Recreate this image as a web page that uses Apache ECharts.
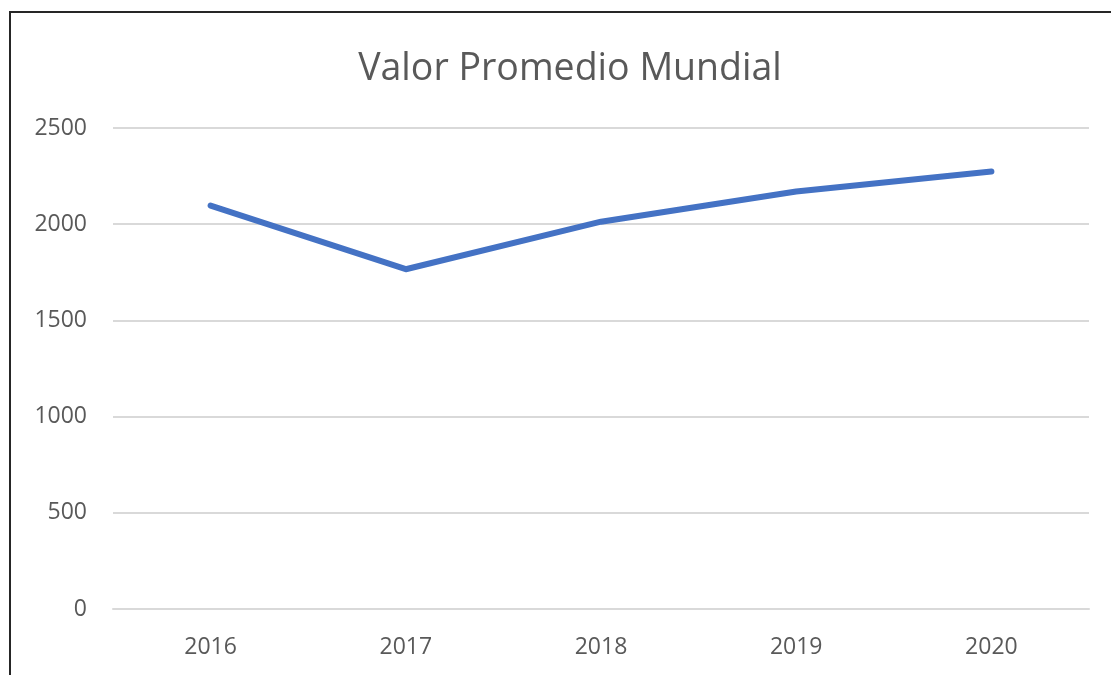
<!DOCTYPE html>
<html>
<head>
<meta charset="utf-8">
<script src="https://cdn.jsdelivr.net/npm/echarts@6/dist/echarts.min.js"></script>
<style>
  html, body { margin: 0; padding: 0; background: #fff; overflow: hidden; }
  #chart-container { width: 1111px; height: 675px; }
</style>
</head>
<body>
<div id="chart-container"></div>
<script>
// datos del gráfico
const years = ['2016', '2017', '2018', '2019', '2020'];
const avgValues = [2097, 1766, 2013, 2170, 2274];
const yTicks = [0, 500, 1000, 1500, 2000, 2500];

const chartOption = {
  animation: false,
  textStyle: { fontFamily: '"Open Sans", "Noto Sans", sans-serif' },
  title: {
    text: 'Valor Promedio Mundial',
    left: 565,
    top: 45,
    textAlign: 'center',
    textStyle: { fontSize: 37.5, fontWeight: 'normal', color: '#595959' }
  },
  grid: { left: 113, right: 22, top: 128, bottom: 66 },
  xAxis: {
    type: 'category',
    data: years,
    boundaryGap: true,
    axisLine: { show: true, lineStyle: { color: '#d9d9d9', width: 2 } },
    axisTick: { show: false },
    axisLabel: { color: '#595959', fontSize: 23, margin: 27 }
  },
  yAxis: {
    type: 'value',
    min: yTicks[0],
    max: yTicks[yTicks.length - 1],
    interval: 500,
    axisLine: { show: false },
    axisTick: { show: false },
    axisLabel: { color: '#595959', fontSize: 23, margin: 26, formatter: v => String(v) },
    splitLine: { lineStyle: { color: '#d9d9d9', width: 2 } }
  },
  series: [{
    name: 'Valor Promedio',
    type: 'line',
    data: avgValues,
    symbol: 'none',
    lineStyle: { color: '#4472c4', width: 6, cap: 'round', join: 'round' }
  }],
  graphic: [
    { type: 'line', shape: { x1: 9, y1: 12, x2: 1111, y2: 12 }, style: { stroke: '#262626', lineWidth: 2 } },
    { type: 'line', shape: { x1: 10, y1: 11, x2: 10, y2: 675 }, style: { stroke: '#262626', lineWidth: 2 } }
  ]
};

const chartContainer = document.getElementById('chart-container');
const chart = echarts.init(chartContainer);
chart.setOption(chartOption);
</script>
</body>
</html>
